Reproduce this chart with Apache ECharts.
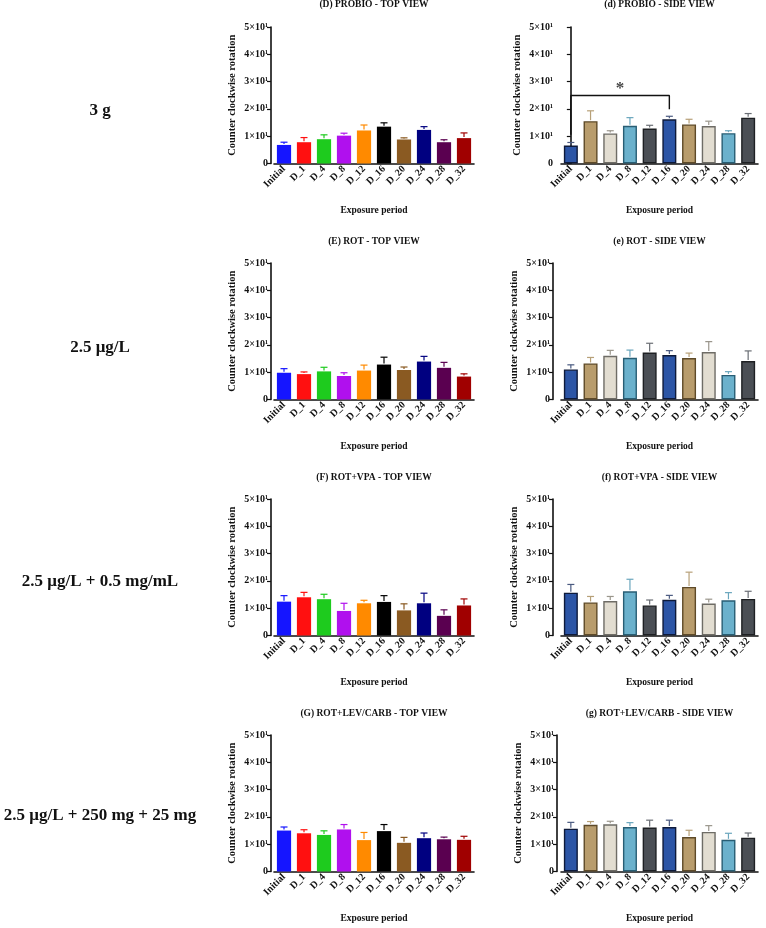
<!DOCTYPE html>
<html>
<head>
<meta charset="utf-8">
<script src="https://cdn.jsdelivr.net/npm/echarts@6/dist/echarts.min.js"></script>
<style>html,body{margin:0;padding:0;background:#fff}#c{width:766px;height:928px}</style>
</head>
<body>
<div id="c"></div>
<script>
const categories = ['Initial','D_1','D_4','D_8','D_12','D_16','D_20','D_24','D_28','D_32'];
const yTickLabels = ['0','1×10¹','2×10¹','3×10¹','4×10¹','5×10¹'];
const panelTitles = ['(D) PROBIO - TOP VIEW','(d) PROBIO - SIDE VIEW','(E) ROT - TOP VIEW','(e) ROT - SIDE VIEW','(F) ROT+VPA - TOP VIEW','(f) ROT+VPA - SIDE VIEW','(G) ROT+LEV/CARB - TOP VIEW','(g) ROT+LEV/CARB - SIDE VIEW'];
const rowLabels = ['3 g','2.5 μg/L','2.5 μg/L + 0.5 mg/mL','2.5 μg/L + 250 mg + 25 mg'];
const xAxisName = 'Exposure period';
const yAxisName = 'Counter clockwise rotation';

const probioTopMean  = [6.8, 7.8, 8.9, 10.2, 12.1, 13.5, 8.8, 12.3, 7.8, 9.3];
const probioTopErr   = [1.0, 1.7, 1.6, 0.9, 2.0, 1.4, 0.6, 1.2, 0.9, 1.9];
const probioSideMean = [6.6, 15.5, 11.0, 13.8, 12.8, 16.2, 14.3, 13.7, 11.1, 16.8];
const probioSideErr  = [1.1, 3.8, 1.0, 3.0, 1.2, 1.1, 1.9, 1.8, 0.9, 1.5];
const rotTopMean     = [9.8, 9.3, 10.3, 8.6, 10.6, 12.8, 10.8, 13.9, 11.6, 8.4];
const rotTopErr      = [1.5, 0.8, 1.5, 1.2, 2.0, 2.7, 1.1, 1.9, 2.0, 1.0];
const rotSideMean    = [11.0, 13.2, 16.0, 15.3, 17.2, 16.3, 15.2, 17.4, 9.0, 14.1];
const rotSideErr     = [1.7, 2.2, 2.0, 2.8, 3.4, 1.6, 1.8, 3.8, 1.2, 3.7];
const vpaTopMean     = [12.4, 14.0, 13.3, 9.0, 11.8, 12.3, 9.2, 11.8, 7.2, 11.0];
const vpaTopErr      = [2.2, 1.8, 1.8, 2.8, 1.1, 2.3, 2.4, 3.7, 2.2, 2.4];
const vpaSideMean    = [15.7, 12.1, 12.6, 16.2, 11.0, 13.1, 17.8, 11.7, 12.9, 13.4];
const vpaSideErr     = [3.0, 2.2, 1.7, 4.4, 2.0, 1.6, 5.4, 1.6, 2.8, 2.8];
const levTopMean     = [15.0, 14.0, 13.4, 15.4, 11.5, 14.8, 10.5, 12.2, 11.8, 11.6];
const levTopErr      = [1.3, 1.3, 1.5, 1.8, 2.8, 2.4, 2.0, 1.9, 0.8, 1.3];
const levSideMean    = [15.7, 17.1, 17.3, 16.3, 16.1, 16.3, 12.6, 14.5, 11.6, 12.4];
const levSideErr     = [2.3, 1.2, 1.1, 1.6, 2.7, 2.5, 2.5, 2.3, 2.4, 1.7];

// significance bracket (d): Initial vs D_16 — [left leg bottom, bracket level, right leg bottom]
const bracketFrom = 0, bracketTo = 5;
const bracketLevels = [10.5, 24.9, 19.9];
const bracketMark = '*';

const panelMeans = [probioTopMean, probioSideMean, rotTopMean, rotSideMean, vpaTopMean, vpaSideMean, levTopMean, levSideMean];
const panelErrs  = [probioTopErr, probioSideErr, rotTopErr, rotSideErr, vpaTopErr, vpaSideErr, levTopErr, levSideErr];

// styles
const topColors = ['#1515ff','#ff1010','#1ecb1e','#b010ee','#ff8a00','#000000','#8a5a22','#000080','#5a0050','#a00000'];
const sideFill   = ['#2c55a6','#b89c6c','#e2ddd1','#6bb1cc','#4b4f55','#2c55a6','#b89c6c','#e2ddd1','#6bb1cc','#4b4f55'];
const sideBorder = ['#0e1a3a','#5e4a28','#6e6c66','#285e74','#1e2023','#0e1a3a','#5e4a28','#6e6c66','#285e74','#1e2023'];
const sideErrCol = ['#4a5a80','#b7a078','#9a968c','#6aa6bd','#6a6e74','#4a5a80','#b7a078','#9a968c','#6aa6bd','#6a6e74'];

const rowTops = [27, 263, 499, 735];
const plotH = 136.5;
const colLeft = [274, 561];
const colW = [200, 197];
const yOffsets = [[3, 5], [3, 8], [3, 8], [3, 4]];
const titleY = [5, 242, 478, 714];
const rowLabelY = [111, 348, 582, 816];
const serif = '"Liberation Serif", "Times New Roman", serif';

const grids = [], xAxes = [], yAxes = [], series = [], graphics = [];
for (let p = 0; p < 8; p++) {
  const row = Math.floor(p / 2), col = p % 2, side = col === 1;
  grids.push({left: colLeft[col], top: rowTops[row], width: colW[col], height: plotH});
  xAxes.push({
    type: 'category', gridIndex: p, data: categories,
    axisLine: {lineStyle: {color: '#111', width: 1.6}},
    axisTick: {alignWithLabel: true, length: 3, lineStyle: {color: '#111', width: 1.2}},
    axisLabel: {rotate: 45, margin: 4, fontFamily: serif, fontWeight: 'bold', fontSize: 10, color: '#111', interval: 0},
    name: xAxisName, nameLocation: 'middle', nameGap: 42,
    nameTextStyle: {fontFamily: serif, fontWeight: 'bold', fontSize: 9.5, color: '#111'}
  });
  yAxes.push({
    type: 'value', gridIndex: p, min: 0, max: 50, interval: 10, offset: yOffsets[row][col],
    splitLine: {show: false},
    axisLine: {show: true, lineStyle: {color: '#111', width: 1.6}},
    axisTick: {show: true, length: 4, lineStyle: {color: '#111', width: 1.2}},
    axisLabel: {margin: 3, fontFamily: serif, fontWeight: 'bold', fontSize: 10, color: '#111',
      formatter: v => yTickLabels[Math.round(v / 10)]},
    name: yAxisName, nameLocation: 'middle', nameGap: 33, nameRotate: 90,
    nameTextStyle: {fontFamily: serif, fontWeight: 'bold', fontSize: 10.5, color: '#111'}
  });
  const means = panelMeans[p], errs = panelErrs[p];
  series.push({
    type: 'bar', xAxisIndex: p, yAxisIndex: p, barWidth: '71%',
    data: means.map((v, i) => ({value: v, itemStyle: side
      ? {color: sideFill[i], borderColor: sideBorder[i], borderWidth: 1.4}
      : {color: topColors[i]}})),
    z: 2
  });
  series.push({
    type: 'custom', xAxisIndex: p, yAxisIndex: p, z: 3,
    data: means.map((v, i) => [i, v, errs[i]]),
    renderItem: (params, api) => {
      const i = api.value(0), m = api.value(1), e = api.value(2);
      const a = api.coord([i, m]), b = api.coord([i, m + e]);
      const c = side ? sideErrCol[i] : topColors[i];
      const st = {stroke: c, lineWidth: 1.2};
      return {type: 'group', children: [
        {type: 'line', shape: {x1: a[0], y1: a[1] - 1, x2: b[0], y2: b[1]}, style: st},
        {type: 'line', shape: {x1: b[0] - 3.5, y1: b[1], x2: b[0] + 3.5, y2: b[1]}, style: st}
      ]};
    }
  });
  graphics.push({type: 'text', x: colLeft[col] + colW[col] / 2, y: titleY[row],
    style: {text: panelTitles[p], align: 'center', verticalAlign: 'middle',
      font: 'bold 9.5px ' + serif, fill: '#111'}});
}
// overlay value x-axis for bracket on panel (d)
xAxes.push({type: 'value', gridIndex: 1, min: -0.5, max: 9.5, show: false});
series.push({
  type: 'line', xAxisIndex: 8, yAxisIndex: 1, symbol: 'none', z: 4,
  lineStyle: {color: '#111', width: 1.4},
  data: [[bracketFrom, bracketLevels[0]], [bracketFrom, bracketLevels[1]], [bracketTo, bracketLevels[1]], [bracketTo, bracketLevels[2]]]
});
series.push({
  type: 'scatter', xAxisIndex: 8, yAxisIndex: 1, symbolSize: 1, itemStyle: {color: 'rgba(0,0,0,0)'}, z: 4,
  label: {show: true, position: 'top', distance: -2, formatter: bracketMark, fontSize: 17, fontWeight: 'bold', color: '#111', fontFamily: serif},
  data: [[(bracketFrom + bracketTo) / 2, bracketLevels[1]]]
});
for (let r = 0; r < 4; r++) {
  graphics.push({type: 'text', x: 100, y: rowLabelY[r],
    style: {text: rowLabels[r], align: 'center', verticalAlign: 'middle',
      font: 'bold 17px ' + serif, fill: '#111'}});
}

const chart = echarts.init(document.getElementById('c'), null, {renderer: 'canvas'});
chart.setOption({
  animation: false, backgroundColor: '#fff',
  grid: grids, xAxis: xAxes, yAxis: yAxes, series: series, graphic: graphics
});
</script>
</body>
</html>
